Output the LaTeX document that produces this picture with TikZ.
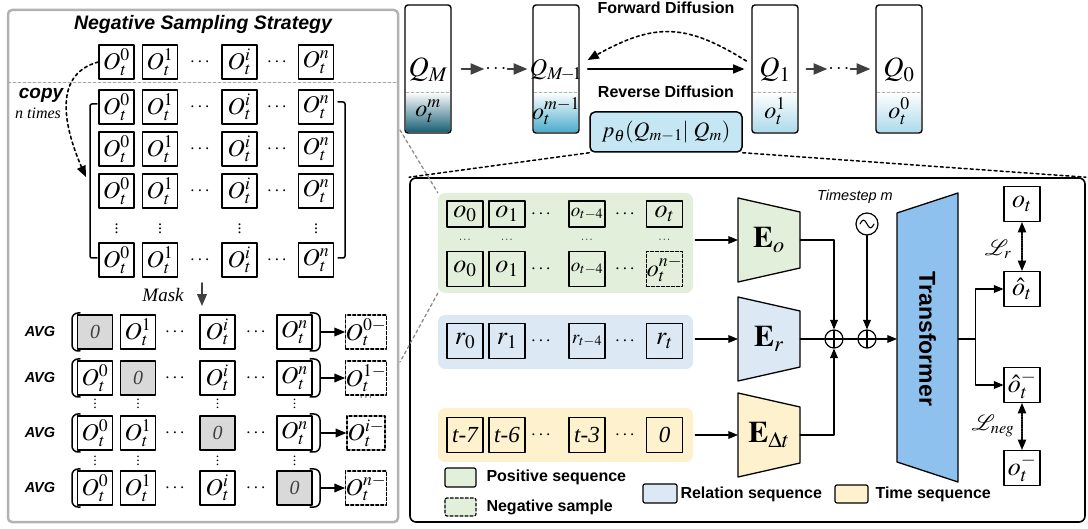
\documentclass[tikz,border=0pt]{standalone}
\usepackage{mathptmx}
\usepackage{fontspec}
\setmainfont{Liberation Serif}
\setsansfont{Liberation Sans}
\usetikzlibrary{arrows,calc,positioning}
\definecolor{grnfill}{RGB}{226,239,218}
\definecolor{blufill}{RGB}{221,232,245}
\definecolor{ylwfill}{RGB}{253,241,206}
\definecolor{trfill}{RGB}{143,193,238}
\definecolor{pfill}{RGB}{197,230,243}
\definecolor{tealdk}{RGB}{24,96,118}
\definecolor{tealmd}{RGB}{58,138,162}
\definecolor{teallt}{RGB}{76,172,204}
\definecolor{cyanlt}{RGB}{172,218,235}
\definecolor{maskgray}{RGB}{217,217,217}
\definecolor{arrgray}{RGB}{64,64,64}
\newcommand{\fsz}[1]{\fontsize{#1}{#1}\selectfont}

\tikzset{
  ocell/.style={draw,line width=1.4pt,minimum width=35,minimum height=34,inner sep=0pt,font=\fsz{24}},
  mcell/.style={ocell,fill=maskgray,text=black!75,font=\fsz{20}},
  ncell/.style={ocell,densely dashed,minimum width=38},
  scell/.style={draw,line width=1.2pt,minimum width=36,minimum height=35,inner sep=0pt,font=\fsz{26}},
  qbox/.style={draw,line width=1.4pt,rounded corners=3pt,minimum width=46,minimum height=128},
  seqbg/.style={rounded corners=7pt,minimum width=255},
  enc/.style={minimum width=62,minimum height=56,inner sep=0pt,font=\fsz{30}},
  plus/.style={draw,circle,line width=1.2pt,minimum size=18,inner sep=0pt,
    path picture={\draw[line width=1.2pt] (path picture bounding box.north) -- (path picture bounding box.south)
      (path picture bounding box.west) -- (path picture bounding box.east);}},
  lbl/.style={font=\sffamily\bfseries\fsz{16}},
  avg/.style={font=\sffamily\bfseries\itshape\fsz{14.5}},
  dts/.style={font=\fsz{19},inner sep=0pt},
  vdts/.style={font=\fsz{14},inner sep=0pt},
  garrow/.style={arrgray,line width=2.2pt,->},
  conn/.style={line width=1.2pt},
}

\begin{document}
\begin{tikzpicture}[line cap=round,line join=round,>=triangle 45,x=1pt,y=-1pt]
\useasboundingbox (0,0) rectangle (1088,529);

% negative sampling panel
\draw[black!30,line width=2.5pt,rounded corners=4pt] (8,10) rectangle (398,522);
\node[font=\sffamily\bfseries\itshape\fsz{19.5}] (title) at (203,24) {Negative Sampling Strategy};
\draw[black!35,densely dashed,line width=0.8pt] (8,82) -- (398,82);

\foreach \c/\x/\s in {a/116.5/0,b/160/1,c/239.5/i,d/316/n}
  \node[ocell] (top\c) at (\x,62) {$O_t^{\s}$};
\node[dts] (topd1) at (200,62) {$\cdots$};
\node[dts] (topd2) at (277,62) {$\cdots$};

\foreach \r/\y in {1/107,2/149,3/191,4/260}{
  \foreach \c/\x/\s in {a/116.5/0,b/160/1,c/239.5/i,d/316/n}
    \node[ocell] (cp\r\c) at (\x,\y) {$O_t^{\s}$};
  \node[dts] (cpd\r a) at (200,\y) {$\cdots$};
  \node[dts] (cpd\r b) at (277,\y) {$\cdots$};
}
\foreach \c/\x in {a/116.5,b/160,c/239.5,d/316}
  \node[vdts,font=\fsz{16}] (cpv\c) at (\x,226) {$\vdots$};
\draw[line width=1.5pt,rounded corners=2pt] (97,104) -- (90,104) -- (90,258) -- (97,258);
\draw[line width=1.5pt,rounded corners=2pt] (338,102) -- (345,102) -- (345,258) -- (338,258);

\coordinate (cpin) at (86,177);
\draw[dashed,line width=1.6pt,->] (topa.west) to[out=195,in=115,looseness=1.1] (cpin);
\node[font=\sffamily\bfseries\itshape\fsz{19}] (copy) at (41,95) {copy};
\node[font=\itshape\fsz{16}] (ntimes) at (38,113) {n times};

\node[font=\itshape\fsz{19}] (mask) at (163,295) {Mask};
\coordinate (mtop) at (202,283);
\coordinate (mbot) at (202,306);
\draw[garrow,line width=1.8pt] (mtop) -- (mbot);

\foreach \r/\y/\m in {1/332/0,2/378/1,3/433/i,4/488/n}{
  \node[avg] (avg\r) at (40,\y) {AVG};
  \foreach \c/\x/\s [count=\k] in {a/95/0,b/138/1,c/217.5/i,d/294.5/n}{
    \ifnum\k=\r
      \node[mcell] (av\r\c) at (\x,\y) {\itshape 0};
    \else
      \node[ocell] (av\r\c) at (\x,\y) {$O_t^{\s}$};
    \fi
  }
  \node[dts] (avd\r a) at (175,\y) {$\cdots$};
  \node[dts] (avd\r b) at (256,\y) {$\cdots$};
  \draw[line width=1.5pt,rounded corners=6pt] (80,\y-19) -- (72,\y-19) -- (72,\y+19) -- (80,\y+19);
  \draw[line width=1.5pt,rounded corners=6pt] (310,\y-19) -- (320,\y-19) -- (320,\y+19) -- (310,\y+19);
  \coordinate (pr\r) at (321,\y);
  \node[ncell] (neg\r) at (366,\y) {$O_t^{\m-}$};
  \draw[line width=1.5pt,->] (pr\r) -- (neg\r.west);
}
\foreach \c/\x in {a/95,b/138,c/217.5,d/294.5}{
  \node[vdts] (avv\c) at (\x,401) {$\vdots$};
  \node[vdts] (avw\c) at (\x,458) {$\vdots$};
}
\node[font=\fsz{12}] (negdots) at (366,398) {$\cdots$};

% diffusion chain
\shade[top color=white,middle color=tealmd,bottom color=tealdk,rounded corners=2pt] (406,92) rectangle (450,132);
\shade[top color=white,bottom color=teallt,rounded corners=2pt] (534,92) rectangle (578,132);
\shade[top color=white,bottom color=cyanlt,rounded corners=2pt] (753,92) rectangle (797,132);
\shade[top color=white,bottom color=cyanlt,rounded corners=2pt] (877,92) rectangle (921,132);
\foreach \n/\x/\q/\o/\f in {qM/428/M/m/28,qMa/556/{M\!-\!1}/{m-1}/24,qa/775/1/1/28,qz/899/0/0/28}{
  \draw[black!30,densely dashed,line width=0.8pt] (\x-22,92) -- (\x+22,92);
  \node[qbox] (\n) at (\x,69) {};
  \node[font=\fsz{\f},inner sep=0pt] (\n lab) at (\x,70) {$Q_{\q}$};
  \node[font=\fsz{24}] (\n obs) at (\x,111) {$o_t^{\o}$};
}
\node[font=\fsz{20},inner sep=1pt] (qd1) at (496,69) {$\cdots$};
\node[font=\fsz{20},inner sep=1pt] (qd2) at (839,69) {$\cdots$};
\draw[garrow,shorten <=10pt] (qM.east) -- (qd1.west);
\draw[garrow,shorten >=5pt] (qd1.east) -- (qMa.west);
\draw[garrow,shorten <=8pt] (qa.east) -- (qd2.west);
\draw[garrow,shorten >=5pt] (qd2.east) -- (qz.west);
\draw[line width=1.6pt,->,shorten <=8pt,shorten >=7pt] (qMa.east) -- (qa.west);
\draw[dashed,line width=1.6pt,->] ($(qa.west)+(-5,-8)$) to[out=148,in=30,looseness=1.2] ($(qMa.east)+(8,-9)$);
\node[font=\sffamily\bfseries\fsz{16}] (fwd) at (666,8) {Forward Diffusion};
\node[font=\sffamily\bfseries\fsz{16}] (rev) at (666,92) {Reverse Diffusion};
\node[draw,fill=pfill,line width=1.5pt,rounded corners=5pt,minimum width=152,minimum height=40,font=\fsz{22}] (pbox) at (666,132)
  {$p_\theta(Q_{m{-}1}|\;Q_m)$};

% denoising model
\node[draw,line width=1.6pt,rounded corners=6pt,minimum width=675,minimum height=344] (main) at (747.5,350) {};
\draw[dashed,line width=1.5pt] (pbox.south west) -- (main.north west);
\draw[dashed,line width=1.5pt] (pbox.south east) -- (main.north east);

\node[seqbg,fill=grnfill,minimum height=100] (gseq) at (565.5,243) {};
\node[seqbg,fill=blufill,minimum height=54] (bseq) at (565.5,342) {};
\node[seqbg,fill=ylwfill,minimum height=54] (yseq) at (565.5,435) {};
\draw[black!45,dashed,line width=1.3pt] (400,130) -- (gseq.north west);
\draw[black!45,dashed,line width=1.3pt] (gseq.south west) -- (400,362);

\foreach \c/\x/\s/\f in {a/465/0/26,b/507/1/26,c/587/t-4/19,d/664.5/t/26}{
  \node[scell,minimum height=26,font=\fsz{\f}] (go\c) at (\x,214) {$o_{\s}$};
  \node[font=\fsz{11},inner sep=0pt] (gv\c) at (\x,240) {$\cdots$};
  \node[scell,font=\fsz{\f}] (bo\c) at (\x,341) {$r_{\s}$};
}
\foreach \c/\x/\s/\f in {a/465/0/26,b/507/1/26,c/587/t-4/19}
  \node[scell,font=\fsz{\f}] (gn\c) at (\x,269) {$o_{\s}$};
\node[scell,densely dashed,font=\fsz{24}] (gnd) at (664.5,269) {$o_t^{n-}$};
\foreach \c/\x/\s in {a/465/t-7,b/507/t-6,c/587/t-3,d/664.5/0}
  \node[scell,font=\itshape\fsz{23}] (yt\c) at (\x,435) {\s};
\foreach \y in {214,269,341,435}{
  \node[dts] at (541,\y) {$\cdots$};
  \node[dts] at (625,\y) {$\cdots$};
}

% encoders
\fill[grnfill] (738,198) -- (800,212) -- (800,268) -- (738,282) -- cycle;
\draw[line width=1.3pt] (738,198) -- (800,212) -- (800,268) -- (738,282) -- cycle;
\fill[blufill] (738,297) -- (800,311) -- (800,367) -- (738,381) -- cycle;
\draw[line width=1.3pt] (738,297) -- (800,311) -- (800,367) -- (738,381) -- cycle;
\fill[ylwfill] (738,393) -- (800,407) -- (800,463) -- (738,477) -- cycle;
\draw[line width=1.3pt] (738,393) -- (800,407) -- (800,463) -- (738,477) -- cycle;
\node[enc] (eo) at (769,240) {$\mathbf{E}_o$};
\node[enc] (er) at (769,339) {$\mathbf{E}_r$};
\node[enc] (edt) at (769,435) {$\mathbf{E}_{\Delta t}$};
\draw[conn,->,shorten <=2pt] (gseq.east |- eo) -- (eo.west);
\draw[conn,->,shorten <=2pt] (bseq.east |- er) -- (er.west);
\draw[conn,->,shorten <=2pt] (yseq.east |- edt) -- (edt.west);

\node[plus] (s1) at (834,339) {};
\node[plus] (s2) at (867,339) {};
\node[draw,circle,line width=1.2pt,minimum size=22,inner sep=0pt,
  path picture={\draw[line width=1.1pt] ([xshift=-7pt]path picture bounding box.center)
    sin ++(3.5,-4) cos ++(3.5,4) sin ++(3.5,4) cos ++(3.5,-4);}] (ts) at (867,224) {};
\node[font=\sffamily\itshape\fsz{14.5}] (tslbl) at (855,197) {Timestep m};

% transformer
\fill[trfill] (897,213) -- (958,193) -- (958,482) -- (897,462) -- cycle;
\draw[line width=1.3pt] (897,213) -- (958,193) -- (958,482) -- (897,462) -- cycle;
\node[minimum width=61,minimum height=250,inner sep=0pt] (tf) at (927.5,339) {};
\node[rotate=-90,font=\sffamily\bfseries\fsz{23}] (tftxt) at (tf.center) {Transformer};

\draw[conn,->] (eo.east) -| (s1.north);
\draw[conn] (er.east) -- (s1.west);
\draw[conn] (s1.east) -- (s2.west);
\draw[conn,->] (edt.east) -| (s1.south);
\draw[conn,->] (ts.south) -- (s2.north);
\draw[conn,->] (s2.east) -- (tf.west);

% outputs
\node[scell] (ot) at (1022,204) {$o_t$};
\node[scell] (oh) at (1022,289) {$\hat{o}_t$};
\node[scell] (ohn) at (1022,385) {$\hat{o}_t^{-}$};
\node[scell] (otn) at (1022,468) {$o_t^{-}$};
\draw[conn] (tf.east) -- ++(17,0) coordinate (br);
\draw[conn,->] (br) |- (oh.west);
\draw[conn,->] (br) |- (ohn.west);
\draw[densely dotted,line width=1.4pt,<->] (ot.south) -- (oh.north);
\draw[densely dotted,line width=1.4pt,<->] (ohn.south) -- (otn.north);
\node[font=\fsz{22}] (lr) at (998,249) {$\mathcal{L}_r$};
\node[font=\fsz{22}] (lneg) at (993,426) {$\mathcal{L}_{neg}$};

% legend
\draw[fill=grnfill,line width=1.2pt,rounded corners=2pt] (445,468) rectangle (476,487);
\draw[fill=grnfill,densely dashed,line width=1.2pt,rounded corners=2pt] (445,498) rectangle (476,516);
\draw[fill=blufill,line width=1.2pt,rounded corners=2pt] (643,484) rectangle (677,503);
\draw[fill=ylwfill,line width=1.2pt,rounded corners=2pt] (835,485) rectangle (868,503);
\node[lbl,anchor=west] (lpos) at (483,477) {Positive sequence};
\node[lbl,anchor=west] (lnegs) at (483,507) {Negative sample};
\node[lbl,anchor=west] (lrel) at (677,494) {Relation sequence};
\node[lbl,anchor=west] (ltim) at (872,494) {Time sequence};
\end{tikzpicture}
\end{document}
